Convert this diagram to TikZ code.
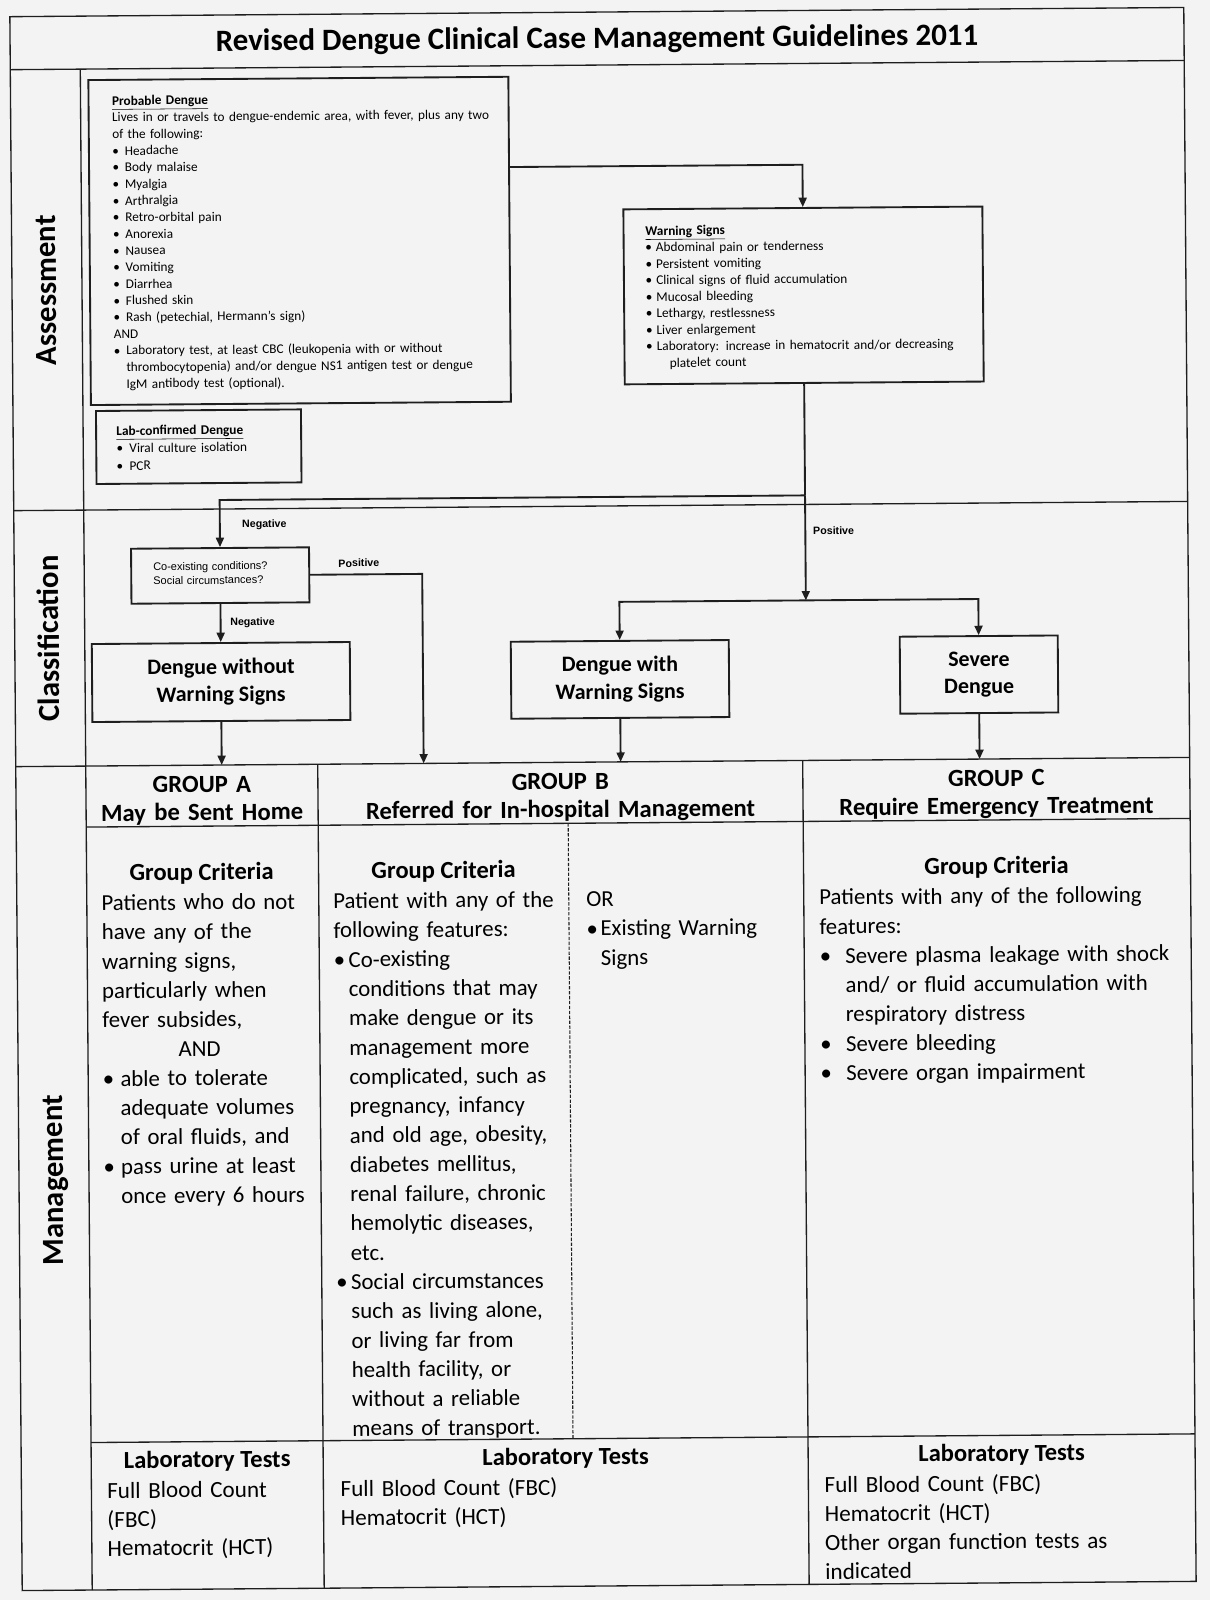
\documentclass[tikz,border=0pt]{standalone}
\usepackage{fontspec}
\setmainfont{Carlito}
\newfontfamily\arialf{Liberation Sans}
\usetikzlibrary{arrows.meta}
\definecolor{ink}{RGB}{30,30,30}
\definecolor{paper}{RGB}{243,243,243}
\newcommand\mybul[1]{\makebox[#1][l]{\textbullet}}
\begin{document}
\begin{tikzpicture}[x=0.75pt,y=-0.75pt,
  tbl/.style={draw=ink,line width=1pt},
  dashln/.style={draw=ink,line width=0.8pt,dash pattern=on 2.5pt off 1.2pt},
  boxn/.style={draw=ink,line width=1.4pt,inner sep=0pt},
  conn/.style={draw=ink,line width=1.4pt},
  arr/.style={conn,-{Triangle[length=7pt,width=6pt]}},
  txt/.style={inner sep=0pt,anchor=base west,align=left},
  ctxt/.style={inner sep=0pt,anchor=base,align=center},
  smallf/.style={font=\fontsize{9.95pt}{12.49pt}\selectfont},
  bodyf/.style={font=\fontsize{17.15pt}{21.98pt}\selectfont},
  labf/.style={font=\fontsize{17.35pt}{21.6pt}\selectfont},
  hdf/.style={font=\fontsize{18.5pt}{21pt}\bfseries\selectfont},
  gcf/.style={font=\fontsize{18.4pt}{22pt}\bfseries\selectfont},
  clsf/.style={font=\fontsize{16.5pt}{20.6pt}\bfseries\selectfont},
  secf/.style={font=\fontsize{23pt}{27pt}\bfseries\selectfont},
  lblf/.style={font=\arialf\bfseries\fontsize{8pt}{9.6pt}\selectfont},
  cof/.style={font=\arialf\fontsize{8.25pt}{10.5pt}\selectfont},
]
\fill[paper] (0,0) rectangle (1210,1600);
\useasboundingbox (0,0) rectangle (1210,1600);
\begin{scope}[rotate around={0.45:(605,800)},transform shape]
% ---------- table frame ----------
\draw[tbl] (16,12) rectangle (1190,1586);
\draw[tbl] (16,65) -- (1190,65);
\draw[tbl] (86,65) -- (86,1586);
\draw[tbl] (16,506) -- (1190,506);
\draw[tbl] (16,762) -- (1190,762);
\draw[tbl] (86,823) -- (1190,823);
\draw[tbl] (86,1438.5) -- (1190,1438.5);
\draw[tbl] (318,762) -- (318,1586);
\draw[tbl] (803,762) -- (803,1586);
\draw[dashln] (568,823) -- (568,1438.5);

% ---------- title and section labels ----------
\node[ctxt,font=\fontsize{23.25pt}{28pt}\bfseries\selectfont] (title) at (603,48) {Revised Dengue Clinical Case Management Guidelines 2011};
\node[secf,rotate=90,anchor=mid,inner sep=0pt] (sa) at (57,286) {Assessment};
\node[secf,rotate=90,anchor=mid,inner sep=0pt] (sc) at (57,634) {Classification};
\node[secf,rotate=90,anchor=mid,inner sep=0pt] (sm) at (57,1176) {Management};

% ---------- assessment boxes ----------
\node[boxn,minimum width=315pt,minimum height=243.75pt] (pd) at (304,238.5) {};
\node[txt,smallf,text width=310pt] (pdt) at (117.2,101.4) {\textbf{\underline{Probable Dengue}}\\
Lives in or travels to dengue-endemic area, with fever, plus any two\\
of the following:\\
\mybul{9.3pt}Headache\\
\mybul{9.3pt}Body malaise\\
\mybul{9.3pt}Myalgia\\
\mybul{9.3pt}Arthralgia\\
\mybul{9.3pt}Retro-orbital pain\\
\mybul{9.3pt}Anorexia\\
\mybul{9.3pt}Nausea\\
\mybul{9.3pt}Vomiting\\
\mybul{9.3pt}Diarrhea\\
\mybul{9.3pt}Flushed skin\\
\mybul{9.3pt}Rash (petechial, Hermann’s sign)\\
AND\\
\mybul{9.3pt}Laboratory test, at least CBC (leukopenia with or without\\
\hspace*{9.3pt}thrombocytopenia) and/or dengue NS1 antigen test or dengue\\
\hspace*{9.3pt}IgM antibody test (optional).};

\node[boxn,minimum width=153.75pt,minimum height=54.75pt] (lc) at (201.5,443.5) {};
\node[txt,font=\fontsize{10pt}{13.1pt}\selectfont,text width=140pt] (lct) at (119,431.4) {\textbf{\underline{Lab-confirmed Dengue}}\\
\mybul{9.7pt}Viral culture isolation\\
\mybul{9.7pt}PCR};

\node[boxn,minimum width=269.25pt,minimum height=131.25pt] (ws) at (807.5,297) {};
\node[txt,font=\fontsize{10pt}{12.375pt}\selectfont,text width=260pt] (wst) at (649.5,235.7) {\textbf{\underline{Warning Signs}}\\
\mybul{7.9pt}Abdominal pain or tenderness\\
\mybul{7.9pt}Persistent vomiting\\
\mybul{7.9pt}Clinical signs of fluid accumulation\\
\mybul{7.9pt}Mucosal bleeding\\
\mybul{7.9pt}Lethargy, restlessness\\
\mybul{7.9pt}Liver enlargement\\
\mybul{7.9pt}Laboratory: increase in hematocrit and/or decreasing\\
\hspace*{17.6pt}platelet count};

% ---------- classification boxes ----------
\node[boxn,minimum width=133.5pt,minimum height=41.25pt] (co) at (222,572.5) {};
\node[txt,cof,text width=125pt] (cot) at (154.8,567) {Co-existing conditions?\\Social circumstances?};

\node[boxn,clsf,align=center,minimum width=193.5pt,minimum height=58.5pt] (dwo) at (222,679) {Dengue without\\Warning Signs};
\node[boxn,clsf,align=center,minimum width=163.5pt,minimum height=57.75pt] (dw) at (621,679.5) {Dengue with\\Warning Signs};
\node[boxn,clsf,align=center,minimum width=118.5pt,minimum height=57.75pt] (sd) at (980,677.5) {Severe\\Dengue};

\node[txt,lblf] (neg1) at (244,525) {Negative};
\node[txt,lblf] (pos1) at (340,565) {Positive};
\node[txt,lblf] (neg2) at (231.4,623) {Negative};
\node[txt,lblf] (pos2) at (815,536.6) {Positive};

% ---------- connector corner points ----------
\coordinate (c1) at (807.5,166.3);
\coordinate (j1) at (807.5,497);
\coordinate (c2) at (222,497);
\coordinate (j2) at (807.5,602);
\coordinate (c3) at (621,602);
\coordinate (c4) at (980,602);
\coordinate (c5) at (424,572.5);
\coordinate (hb) at (424,762);
\coordinate (ha) at (222,762);
\coordinate (hbb) at (621,762);
\coordinate (hc) at (980,762);

\draw[arr] ([yshift=54.15pt]pd.east) -- (c1) -- (ws.north);
\draw[conn] (ws.south) -- (j1);
\draw[arr] (j1) -- (c2) -- (co.north);
\draw[arr] (j1) -- (j2);
\draw[arr] (j2) -- (c3) -- (dw.north);
\draw[arr] (j2) -- (c4) -- (sd.north);
\draw[arr] (co.south) -- (dwo.north);
\draw[arr] (co.east) -- (c5) -- (hb);
\draw[arr] (dwo.south) -- (ha);
\draw[arr] (dw.south) -- (hbb);
\draw[arr] (sd.south) -- (hc);

% ---------- management headers ----------
\node[ctxt,hdf,text width=170pt] (ga) at (202,789.3) {GROUP A\\May be Sent Home};
\node[ctxt,hdf,text width=350pt] (gb) at (560.5,789.3) {GROUP B\\Referred for In-hospital Management};
\node[ctxt,hdf,text width=285pt] (gc) at (996.5,789.3) {GROUP C\\Require Emergency Treatment};

\node[ctxt,gcf] (gca) at (201,877) {Group Criteria};
\node[ctxt,gcf] (gcb) at (443,877) {Group Criteria};
\node[ctxt,gcf] (gcc) at (996,877) {Group Criteria};

\node[txt,bodyf,text width=170pt] (bodya) at (100.4,906.6) {Patients who do not\\
have any of the\\
warning signs,\\
particularly when\\
fever subsides,\\
\hspace*{57pt}AND\\
\mybul{13.2pt}able to tolerate\\
\hspace*{13.2pt}adequate volumes\\
\hspace*{13.2pt}of oral fluids, and\\
\mybul{13.2pt}pass urine at least\\
\hspace*{13.2pt}once every 6 hours};

\node[txt,bodyf,text width=190pt] (bodyb) at (332.2,906.6) {Patient with any of the\\
following features:\\
\mybul{11.1pt}Co-existing\\
\hspace*{11.1pt}conditions that may\\
\hspace*{11.1pt}make dengue or its\\
\hspace*{11.1pt}management more\\
\hspace*{11.1pt}complicated, such as\\
\hspace*{11.1pt}pregnancy, infancy\\
\hspace*{11.1pt}and old age, obesity,\\
\hspace*{11.1pt}diabetes mellitus,\\
\hspace*{11.1pt}renal failure, chronic\\
\hspace*{11.1pt}hemolytic diseases,\\
\hspace*{11.1pt}etc.\\
\mybul{11.1pt}Social circumstances\\
\hspace*{11.1pt}such as living alone,\\
\hspace*{11.1pt}or living far from\\
\hspace*{11.1pt}health facility, or\\
\hspace*{11.1pt}without a reliable\\
\hspace*{11.1pt}means of transport.};

\node[txt,bodyf,text width=150pt] (bodybr) at (585.2,906.6) {OR\\
\mybul{10.5pt}Existing Warning\\
\hspace*{10.5pt}Signs};

\node[txt,bodyf,text width=280pt] (bodyc) at (818.2,906.6) {Patients with any of the following\\
features:\\
\mybul{19.2pt}Severe plasma leakage with shock\\
\hspace*{19.2pt}and/ or fluid accumulation with\\
\hspace*{19.2pt}respiratory distress\\
\mybul{19.2pt}Severe bleeding\\
\mybul{19.2pt}Severe organ impairment};

% ---------- laboratory tests ----------
\node[ctxt,gcf] (lta) at (202,1464.4) {Laboratory Tests};
\node[ctxt,gcf] (ltb) at (560.5,1464.4) {Laboratory Tests};
\node[ctxt,gcf] (ltc) at (996.5,1464.4) {Laboratory Tests};

\node[txt,labf,text width=160pt] (laba) at (101.5,1494.5) {Full Blood Count\\(FBC)\\Hematocrit (HCT)};
\node[txt,labf,text width=300pt] (labb) at (335,1494.5) {Full Blood Count (FBC)\\Hematocrit (HCT)};
\node[txt,labf,text width=270pt] (labc) at (819,1494.5) {Full Blood Count (FBC)\\Hematocrit (HCT)\\Other organ function tests as\\indicated};
\end{scope}
\end{tikzpicture}
\end{document}
